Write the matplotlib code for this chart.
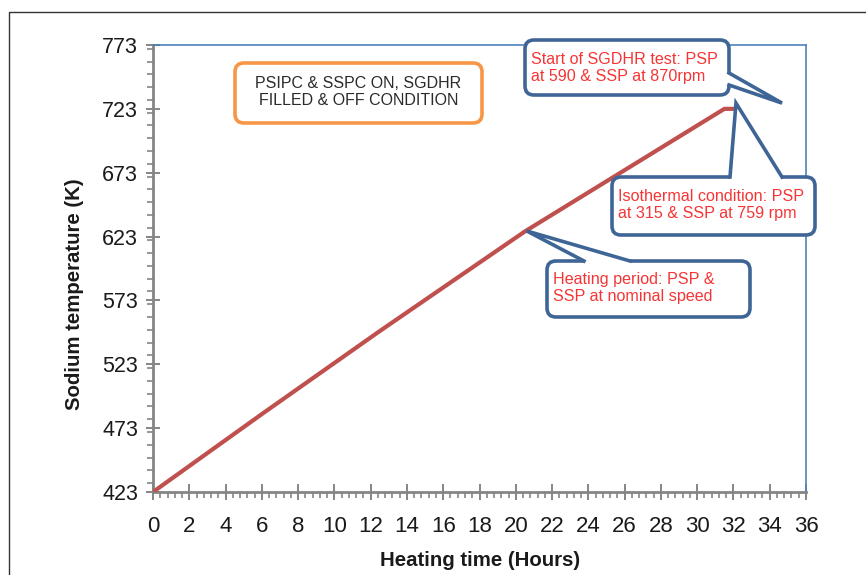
import matplotlib
matplotlib.use("Agg")
import matplotlib.pyplot as plt
from matplotlib.lines import Line2D
from matplotlib.patches import FancyBboxPatch, Polygon
from matplotlib.ticker import MultipleLocator

# heating curve of the sodium loop
hours = [0, 6, 12.5, 20.5, 31.5, 32.1]
temp_k = [423, 484, 549, 627, 723, 723]

x_ticks = list(range(0, 37, 2))
y_ticks = [423, 473, 523, 573, 623, 673, 723, 773]

W, H = 866, 575
BLUE = "#3F6596"
RED = "#F53535"
GREY = "#858585"

plt.rcParams["font.family"] = ["Liberation Sans", "DejaVu Sans"]

fig = plt.figure(figsize=(W / 100, H / 100), dpi=100)
ax = fig.add_axes([153 / W, 1 - 492 / H, (806 - 153) / W, (492 - 45) / H])

ax.plot(hours, temp_k, color="#C0504D", lw=3, solid_capstyle="butt", zorder=3)

ax.set_xlim(0, 36)
ax.set_ylim(423, 773)
ax.set_xticks(x_ticks)
ax.set_yticks(y_ticks)
ax.xaxis.set_minor_locator(MultipleLocator(0.4))
ax.yaxis.set_minor_locator(MultipleLocator(10))

for side in ("bottom", "left"):
    ax.spines[side].set_color(GREY)
    ax.spines[side].set_linewidth(2)
for side in ("top", "right"):
    ax.spines[side].set_color("#4F81BD")
    ax.spines[side].set_linewidth(1.2)

ax.tick_params(axis="x", which="major", direction="inout", length=11, width=1.4,
               color=GREY, labelsize=16, labelcolor="#1a1a1a", pad=12)
ax.tick_params(axis="y", which="major", direction="inout", length=9.5, width=1.4,
               color=GREY, labelsize=15.5, labelcolor="#1a1a1a", pad=6)
ax.tick_params(which="minor", direction="out", length=4.3, width=1.2, color=GREY)

fig.text(480 / W, 1 - 561 / H, "Heating time (Hours)", ha="center", va="center",
         fontsize=14.7, fontweight="bold", color="#1a1a1a")
fig.text(75 / W, 1 - 294 / H, "Sodium temperature (K)", ha="center", va="center",
         rotation=90, fontsize=14.7, fontweight="bold", color="#1a1a1a")

# outer frame, only left and top edges fall inside the canvas
fig.add_artist(Line2D([9 / W, 9 / W, 1.0], [0.0, 1 - 12 / H, 1 - 12 / H],
                      transform=fig.transFigure, color="#333333", lw=1))


def to_fig(x, y):
    # pixel position measured from the top-left corner -> figure fraction
    return x / W, 1 - y / H


def rounded_box(x0, y0, x1, y1, ec, z):
    fx, fy = to_fig(x0, y1)
    box = FancyBboxPatch((fx, fy), (x1 - x0) / W, (y1 - y0) / H,
                         boxstyle=f"round,pad=0,rounding_size={9 / W}",
                         mutation_aspect=W / H, transform=fig.transFigure,
                         fc="white", ec=ec, lw=2.6, zorder=z)
    fig.add_artist(box)


def callout(box, base_a, base_b, inward, target, lines, text_xy):
    rounded_box(*box, ec=BLUE, z=5)
    # tip anchored on the data point
    tx, ty = fig.transFigure.inverted().transform(ax.transData.transform(target))
    a = to_fig(*base_a)
    b = to_fig(*base_b)
    ia = to_fig(base_a[0] + inward[0], base_a[1] + inward[1])
    ib = to_fig(base_b[0] + inward[0], base_b[1] + inward[1])
    fig.add_artist(Polygon([ia, a, (tx, ty), b, ib], closed=True,
                           transform=fig.transFigure, fc="white", ec="none", zorder=6))
    fig.add_artist(Line2D([a[0], tx, b[0]], [a[1], ty, b[1]], transform=fig.transFigure,
                          color=BLUE, lw=2.6, solid_joinstyle="miter", zorder=7))
    fx, fy = to_fig(*text_xy)
    fig.text(fx, fy, lines, ha="left", va="center", fontsize=11.6, color=RED,
             linespacing=1.2, zorder=8)


callout((525, 40, 729, 95), (729, 73), (729, 85), (-3, 0), (34.68, 727.5),
        "Start of SGDHR test: PSP\nat 590 & SSP at 870rpm", (531, 68))
callout((612, 177, 815, 235), (730, 177), (782, 177), (0, 3), (32.14, 727.5),
        "Isothermal condition: PSP\nat 315 & SSP at 759 rpm", (618, 205))
callout((547, 261, 750, 317), (584, 261), (630, 261), (0, 3), (20.6, 627.4),
        "Heating period: PSP &\nSSP at nominal speed", (553, 288))

rounded_box(235, 63, 482, 123, ec="#F79646", z=5)
fx, fy = to_fig(358.5, 92)
fig.text(fx, fy, "PSIPC & SSPC ON, SGDHR\nFILLED & OFF CONDITION", ha="center",
         va="center", fontsize=11.5, color="#2b2b2b", linespacing=1.2, zorder=8)

fig.savefig("out.png", dpi=100)
